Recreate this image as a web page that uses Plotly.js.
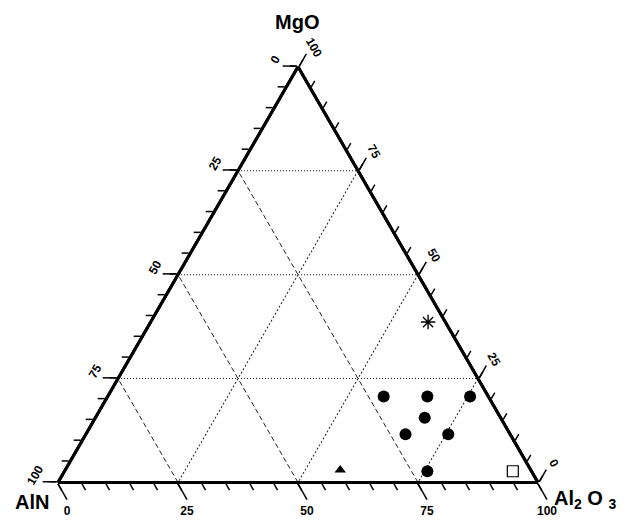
<!DOCTYPE html>
<html>
<head>
<meta charset="utf-8">
<script src="https://cdn.plot.ly/plotly-3.0.1.min.js"></script>
<style>html,body{margin:0;padding:0;background:#fff;}#chart{width:628px;height:522px;}</style>
</head>
<body>
<div id="chart"></div>
<script>
// ---- data (percent) : a = MgO (top), b = AlN (bottom-left), c = Al2O3 (bottom-right)
var circleMgO   = [20.7, 20.7, 20.7, 15.6, 11.6, 11.6, 2.7];
var circleAlN   = [21.8, 12.7, 3.8, 15.8, 21.8, 12.9, 21.7];
var circleAl2O3 = [57.5, 66.6, 75.5, 68.6, 66.6, 75.5, 75.6];

var starMgO = [38.6], starAlN = [3.6], starAl2O3 = [57.8];
var triMgO = [3.0], triAlN = [39.7], triAl2O3 = [57.3];
var sqMgO = [2.7], sqAlN = [3.9], sqAl2O3 = [93.4];

var majorVals = [0, 25, 50, 75, 100];
var majorText = ['100', '75', '50', '25', '0'];
var minorVals = [0,5,10,15,20,25,30,35,40,45,50,55,60,65,70,75,80,85,90,95,100];

var vertexMgO = 'MgO', vertexAlN = 'AlN', vertexAl2O3 = 'Al<sub>2</sub> O <sub>3</sub>';

// ---- layout helpers
var FONT = 'Liberation Sans, Arial, sans-serif';
var dom = {x: [58/628, 538/628], y: [39.5/522, 455.2/522]};

function majorAxis(len, angle, dash) {
  return {
    title: {text: ''},
    min: 0, tickmode: 'array', tickvals: majorVals, ticktext: majorText,
    ticks: 'outside', ticklen: len, tickwidth: 1.5, tickcolor: '#000',
    tickangle: angle,
    tickfont: {family: FONT, size: 12, color: '#000', weight: 'bold'},
    showline: true, linewidth: 3, linecolor: '#000',
    showgrid: true, gridcolor: '#222', gridwidth: 1, griddash: dash,
    layer: 'below traces'
  };
}
function minorAxis() {
  return {
    title: {text: ''},
    min: 0, tickmode: 'array', tickvals: minorVals,
    ticks: 'outside', ticklen: 7, tickwidth: 1.5, tickcolor: '#000',
    showticklabels: false, showline: true, linewidth: 3, linecolor: '#000',
    showgrid: false
  };
}

var traces = [
  {type: 'scatterternary', mode: 'markers', a: circleMgO, b: circleAlN, c: circleAl2O3,
   marker: {symbol: 'circle', size: 12, color: '#000'}, cliponaxis: false, hoverinfo: 'skip'},
  {type: 'scatterternary', mode: 'markers', a: starMgO, b: starAlN, c: starAl2O3,
   marker: {symbol: 'asterisk-open', size: 12, color: '#000', line: {color: '#000', width: 1.4}}, cliponaxis: false, hoverinfo: 'skip'},
  {type: 'scatterternary', mode: 'markers', a: triMgO, b: triAlN, c: triAl2O3,
   marker: {symbol: 'triangle-up', size: 10, color: '#000'}, cliponaxis: false, hoverinfo: 'skip'},
  {type: 'scatterternary', mode: 'markers', a: sqMgO, b: sqAlN, c: sqAl2O3,
   marker: {symbol: 'square-open', size: 11, color: '#000', line: {color: '#000', width: 1.2}}, cliponaxis: false, hoverinfo: 'skip'}
];

var layout = {
  width: 628, height: 522,
  margin: {l: 0, r: 0, t: 0, b: 0},
  paper_bgcolor: '#fff',
  showlegend: false,
  ternary: {
    domain: dom, sum: 100, bgcolor: '#fff',
    aaxis: majorAxis(14, -60, '1px,2px'),
    baxis: majorAxis(18, 0, '5px,3px'),
    caxis: majorAxis(14, 60, '2px,2px')
  },
  ternary2: {
    domain: dom, sum: 100, bgcolor: 'rgba(0,0,0,0)',
    aaxis: minorAxis(), baxis: minorAxis(), caxis: minorAxis()
  },
  annotations: [
    {text: vertexMgO, xref: 'paper', yref: 'paper', x: 297/628, y: 1 - 22/522, xanchor: 'center', yanchor: 'middle',
     showarrow: false, font: {family: FONT, size: 20, color: '#000', weight: 'bold'}},
    {text: vertexAlN, xref: 'paper', yref: 'paper', x: 32/628, y: 1 - 502/522, xanchor: 'center', yanchor: 'middle',
     showarrow: false, font: {family: FONT, size: 20, color: '#000', weight: 'bold'}},
    {text: vertexAl2O3, xref: 'paper', yref: 'paper', x: 552/628, y: 1 - 499/522, xanchor: 'left', yanchor: 'middle',
     showarrow: false, font: {family: FONT, size: 20, color: '#000', weight: 'bold'}}
  ]
};

// an empty trace on ternary2 so its minor-tick frame is drawn
traces.push({type: 'scatterternary', subplot: 'ternary2', mode: 'markers', a: [], b: [], c: [], hoverinfo: 'skip'});

Plotly.newPlot('chart', traces, layout, {displayModeBar: false, staticPlot: true});
</script>
</body>
</html>
